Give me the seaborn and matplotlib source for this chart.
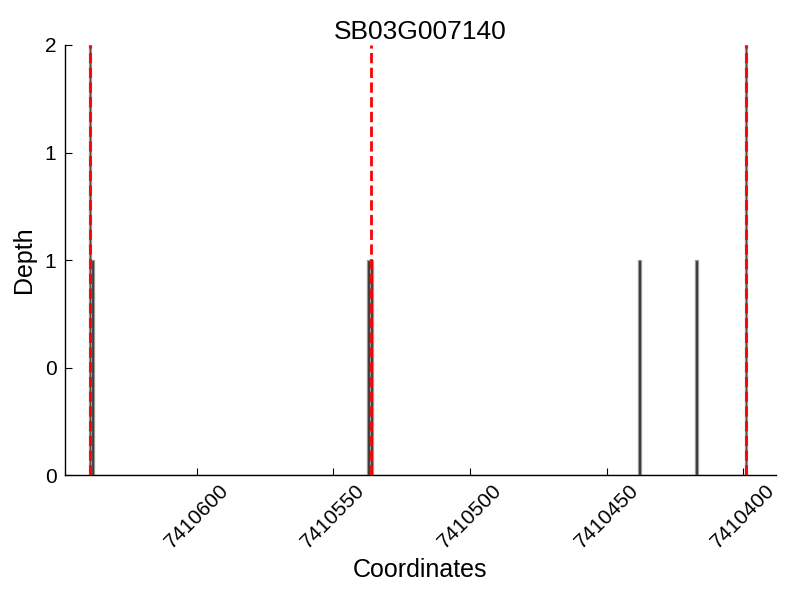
import matplotlib
matplotlib.use("Agg")
import matplotlib.pyplot as plt
import seaborn as sns
import numpy as np
from matplotlib.ticker import FormatStrFormatter

title = "SB03G007140"
coords = [7410639, 7410638, 7410537, 7410536, 7410438, 7410417, 7410399]
depths = [2, 1, 1, 1, 1, 1, 2]
boundaries = [7410639, 7410536, 7410399]
xticks = [7410600, 7410550, 7410500, 7410450, 7410400]
yticks = [0, 0.5, 1, 1.5, 2]

sns.set_style("white")
plt.rcParams['font.family'] = ['Liberation Sans', 'DejaVu Sans']
plt.rcParams.update({'text.color': 'black', 'axes.labelcolor': 'black',
                     'xtick.color': 'black', 'ytick.color': 'black'})

fig = plt.figure(figsize=(8, 6), dpi=100)
ax = fig.add_axes([0.081, 0.208, 0.889, 0.717])

sns.histplot(x=coords, weights=depths, discrete=True, ax=ax,
             color='#333333', edgecolor='#999999', linewidth=0.9, alpha=1)

for b in boundaries:
    ax.axvline(b, color='red', linestyle='--', linewidth=2, zorder=5)

ax.set_xlim(7410648.2, 7410388)
ax.set_ylim(0, 2)
ax.set_xticks(xticks)
ax.set_xticklabels([str(t) for t in xticks], rotation=45, ha='center', fontsize=15)
ax.set_yticks(yticks)
ax.yaxis.set_major_formatter(FormatStrFormatter('%d'))
ax.tick_params(axis='y', labelsize=15, direction='in', length=5, left=True, pad=6)
ax.tick_params(axis='x', direction='in', length=5, bottom=True, pad=4)
for s in ['top', 'right']:
    ax.spines[s].set_visible(False)
for s in ['left', 'bottom']:
    ax.spines[s].set_color('black')
    ax.spines[s].set_linewidth(1)

ax.set_xlabel("Coordinates", fontsize=18, labelpad=4)
ax.set_ylabel("Depth", fontsize=18, labelpad=6)
ax.set_title(title, fontsize=19, pad=4)

fig.savefig("out.png", dpi=100)
